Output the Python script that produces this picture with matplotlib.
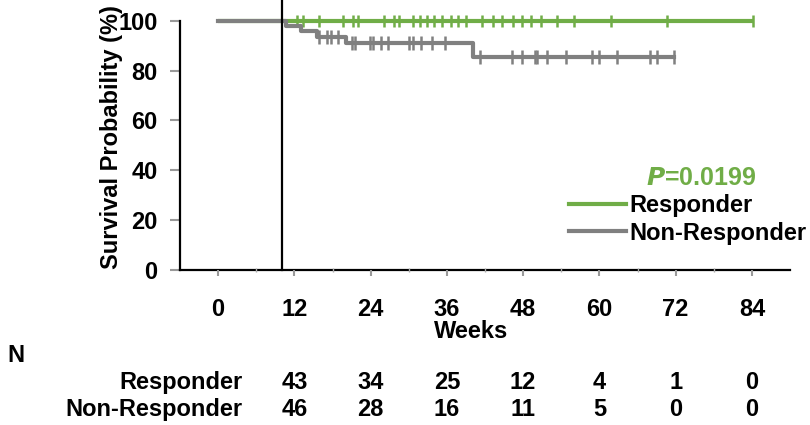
import numpy as np
import matplotlib
matplotlib.use('Agg')
import matplotlib.pyplot as plt
from matplotlib.lines import Line2D

plt.rcParams['font.family'] = ['Liberation Sans', 'DejaVu Sans']
plt.rcParams['font.weight'] = 'bold'

green = '#70AD47'
grey = '#808080'
fsize = 17

# axis ticks
week_ticks = [0, 12, 24, 36, 48, 60, 72, 84]
surv_ticks = [0, 20, 40, 60, 80, 100]

# responders: no events, censored follow-up only
resp_end = 84.2
resp_censor = [12.35, 13.3, 15.9, 19.6, 21.2, 22.05, 26.1, 27.6, 28.5, 30.7,
               31.8, 32.8, 33.9, 35.2, 36.6, 37.8, 39.0, 41.5, 43.2, 44.7,
               46.4, 47.8, 49.2, 50.8, 53.3, 56.0, 61.8, 70.7, 84.2]

# non-responders: event times and KM level after each step
nonresp_events = [10.7, 13.1, 15.6, 20.2, 40.1]
nonresp_surv = [100, 97.8, 95.7, 93.5, 90.9, 85.3]
nonresp_end = 71.7
nonresp_censor = [15.8, 17.1, 17.7, 18.9, 21.0, 21.6, 23.9, 24.4, 25.7, 26.8,
                  30.1, 30.6, 31.9, 33.7, 35.7, 41.2, 46.2, 47.8, 49.9, 50.2,
                  51.8, 54.7, 58.9, 59.9, 62.7, 67.9, 69.1, 71.7]

landmark_week = 10
p_value = '0.0199'

# number at risk
risk_weeks = [12, 24, 36, 48, 60, 72, 84]
risk_resp = [43, 34, 25, 12, 4, 1, 0]
risk_nonresp = [46, 28, 16, 11, 5, 0, 0]

fig = plt.figure(figsize=(8.1, 4.25), dpi=100)
ax = fig.add_axes([180 / 810, 1 - 270 / 425, 610 / 810, 249.3 / 425])

# green curve first so the grey one sits on top at 100%
ax.plot([0, resp_end], [100, 100], color=green, lw=3, solid_capstyle='butt',
        clip_on=False)
ax.plot(resp_censor, [100] * len(resp_censor), ls='none', marker='|',
        ms=9, mew=1.8, color=green, clip_on=False)

nx = [0] + nonresp_events + [nonresp_end]
ny = nonresp_surv + [nonresp_surv[-1]]
ax.plot(nx, ny, drawstyle='steps-post', color=grey, lw=3, clip_on=False)
idx = np.searchsorted(nonresp_events, nonresp_censor, side='right')
ax.plot(nonresp_censor, np.array(nonresp_surv)[idx], ls='none', marker='|',
        ms=10, mew=1.8, color=grey, clip_on=False)

ax.plot([landmark_week, landmark_week], [0, 110], color='black', lw=1.6,
        clip_on=False)

ax.set_xlim(-6, 90)
ax.set_ylim(0, 100)
ax.set_xticks(week_ticks)
ax.set_xticks(np.arange(6, 90, 12), minor=True)
ax.set_yticks(surv_ticks)
for s in ['top', 'right']:
    ax.spines[s].set_visible(False)
for s in ['left', 'bottom']:
    ax.spines[s].set_linewidth(1.6)
ax.tick_params(axis='x', which='major', direction='out', length=4.5, width=1.5,
               color='#999999', pad=15.5, labelsize=fsize)
ax.tick_params(axis='x', which='minor', direction='inout', length=2.5, width=1,
               color='#aaaaaa')
ax.tick_params(axis='y', direction='out', length=7.2, width=1.5,
               color='#999999', pad=9, labelsize=fsize)
ax.xaxis.set_zorder(3)
for lab in ax.get_xticklabels() + ax.get_yticklabels():
    lab.set_fontweight('bold')

fig.text(112 / 810, 1 - 137 / 425, 'Survival Probability (%)', rotation=90,
         ha='center', va='center', fontsize=fsize, fontweight='bold')
fig.text(471 / 810, 1 - 331.5 / 425, 'Weeks', ha='center', va='center',
         fontsize=fsize, fontweight='bold')

# legend and p-value
ax.text(701 / 810, 1 - 178 / 425, r'$\mathbfit{P}$=' + p_value,
        transform=fig.transFigure, ha='center', va='center',
        fontsize=18, fontweight='bold', color=green)
handles = [Line2D([], [], color=green, lw=3),
           Line2D([], [], color=grey, lw=3)]
fig.legend(handles, ['Responder', 'Non-Responder'], loc='upper left',
           bbox_to_anchor=(569 / 810, 1 - 194 / 425), frameon=False,
           prop={'weight': 'bold', 'size': fsize},
           borderpad=0, borderaxespad=0, handlelength=2.4,
           handletextpad=0.15, labelspacing=0.2)

# number-at-risk table
fig.text(7 / 810, 1 - 355 / 425, 'N', ha='left', va='center',
         fontsize=fsize, fontweight='bold')
trans = matplotlib.transforms.blended_transform_factory(ax.transData,
                                                        fig.transFigure)
for name, counts, base in [('Responder', risk_resp, 389.3),
                           ('Non-Responder', risk_nonresp, 416)]:
    fig.text(242.3 / 810, 1 - base / 425, name, ha='right', va='baseline',
             fontsize=fsize, fontweight='bold')
    for w, n in zip(risk_weeks, counts):
        ax.text(w, 1 - base / 425, str(n), transform=trans, ha='center',
                va='baseline', fontsize=fsize, fontweight='bold',
                clip_on=False)

fig.savefig('out.png', dpi=100)
